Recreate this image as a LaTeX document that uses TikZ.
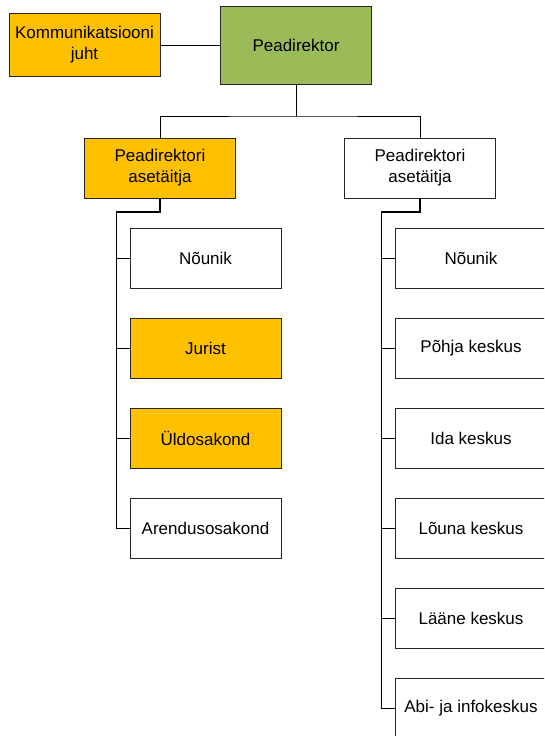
\documentclass[tikz,border=0pt]{standalone}
\usepackage{fontspec}
\setmainfont{Liberation Sans}
\begin{document}
\begin{tikzpicture}[x=1pt,y=-1pt,
  unit/.style={draw=black!85,line width=0.9pt,minimum width=151pt,minimum height=60pt,
    inner sep=1pt,align=center,font=\fontsize{17}{21}\selectfont},
  gold/.style={fill=gold},
  link/.style={draw=black,line width=0.9pt},
  elbow/.style={draw=black,line width=1.8pt}]
\definecolor{gold}{HTML}{FFC000}
\definecolor{leaf}{HTML}{9BBB59}
\useasboundingbox (0,0) rectangle (544,736);
\clip (0,0) rectangle (544,736);
% top level
\node[unit,fill=leaf,minimum height=78pt] (pd) at (296,45) {Peadirektor};
\node[unit,gold,minimum height=63pt] (kj) at (84.5,45) {Kommunikatsiooni\\juht};
\draw[link] (kj.east) -- (pd.west);
% deputies
\node[unit,gold] (a1) at (160,168) {Peadirektori\\asetäitja};
\node[unit] (a2) at (420,168) {Peadirektori\\asetäitja};
\coordinate (hub) at (296,116);
\draw[link] (pd.south) -- (hub);
\draw[link] (a1.north) |- (hub) -| (a2.north);
% left branch
\node[unit] (l1) at (205.5,258) {Nõunik};
\node[unit,gold] (l2) at (205.5,348) {Jurist};
\node[unit,gold] (l3) at (205.5,438) {Üldosakond};
\node[unit] (l4) at (205.5,528) {Arendusosakond};
\coordinate (lk) at (116,212);
\draw[elbow] (a1.south) |- (lk);
\draw[link] (lk) -- (lk |- l4.west) -- (l4.west);
\foreach \n in {l1,l2,l3} \draw[link] (lk |- \n.west) -- (\n.west);
% right branch
\node[unit] (r1) at (471,258) {Nõunik};
\node[unit] (r2) at (471,348) {Põhja keskus};
\node[unit] (r3) at (471,438) {Ida keskus};
\node[unit] (r4) at (471,528) {Lõuna keskus};
\node[unit] (r5) at (471,618) {Lääne keskus};
\node[unit] (r6) at (471,708) {Abi- ja infokeskus};
\coordinate (rk) at (381,212);
\draw[elbow] (a2.south) |- (rk);
\draw[link] (rk) -- (rk |- r6.west) -- (r6.west);
\foreach \n in {r1,r2,r3,r4,r5} \draw[link] (rk |- \n.west) -- (\n.west);
\end{tikzpicture}
\end{document}
